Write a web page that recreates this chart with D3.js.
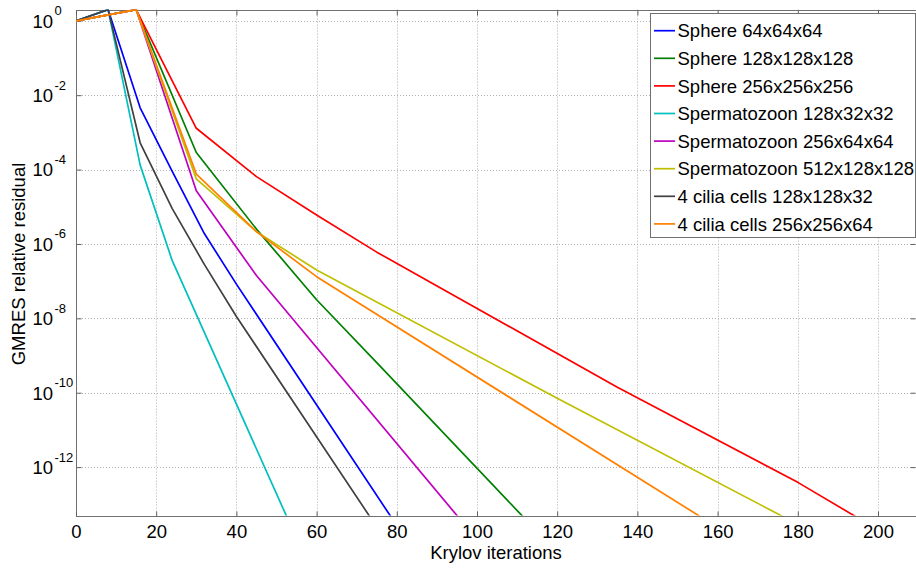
<!DOCTYPE html>
<html>
<head>
<meta charset="utf-8">
<script src="https://cdn.jsdelivr.net/npm/d3@7"></script>
<style>
  html, body { margin: 0; padding: 0; background: #fff; }
  svg { display: block; font-family: "Liberation Sans", Arial, sans-serif; }
</style>
</head>
<body>
<svg id="chart" width="916" height="569"></svg>
<script>
// GMRES convergence histories: relative residual per Krylov iteration
const seriesNames = [
  "Sphere 64x64x64",
  "Sphere 128x128x128",
  "Sphere 256x256x256",
  "Spermatozoon 128x32x32",
  "Spermatozoon 256x64x64",
  "Spermatozoon 512x128x128",
  "4 cilia cells 128x128x32",
  "4 cilia cells 256x256x64"
];
const seriesColors = ["#0000ff", "#008000", "#ff0000", "#00bfbf", "#bf00bf", "#bfbf00", "#404040", "#ff8000"];

const sphere64Iter = [0, 8, 16, 24, 32, 40, 79];
const sphere64Res  = [1, 2, 4.571e-3, 8.913e-5, 1.905e-6, 8.318e-8, 3.89e-14];

const sphere128Iter = [0, 15, 30, 45, 60, 75, 112.5];
const sphere128Res  = [1, 2, 2.884e-4, 2.512e-6, 3.162e-8, 6.457e-10, 3.548e-14];

const sphere256Iter = [0, 15, 30, 45, 60, 75, 135, 180, 196];
const sphere256Res  = [1, 2, 1.288e-3, 6.457e-5, 6.026e-6, 6.026e-7, 1.413e-10, 3.89e-13, 3.715e-14];

const sperm128Iter = [0, 8, 16, 24, 53];
const sperm128Res  = [1, 2, 1.318e-4, 3.548e-7, 3.631e-14];

const sperm256Iter = [0, 15, 30, 45, 96];
const sperm256Res  = [1, 2, 2.692e-5, 1.413e-7, 3.715e-14];

const sperm512Iter = [0, 15, 30, 45, 60, 120, 177];
const sperm512Res  = [1, 2, 5.623e-5, 2.138e-6, 1.995e-7, 7.079e-11, 4.266e-14];

const cilia128Iter = [0, 8, 16, 24, 32, 40, 74];
const cilia128Res  = [1, 2, 5.248e-4, 8.913e-6, 2.818e-7, 1.122e-8, 3.548e-14];

const cilia256Iter = [0, 15, 30, 45, 60, 157];
const cilia256Res  = [1, 2, 7.586e-5, 2.138e-6, 1.318e-7, 3.802e-14];

const xTicks = [0, 20, 40, 60, 80, 100, 120, 140, 160, 180, 200];
const yTickExponents = [0, -2, -4, -6, -8, -10, -12];

const iterSets = [sphere64Iter, sphere128Iter, sphere256Iter, sperm128Iter, sperm256Iter, sperm512Iter, cilia128Iter, cilia256Iter];
const resSets  = [sphere64Res, sphere128Res, sphere256Res, sperm128Res, sperm256Res, sperm512Res, cilia128Res, cilia256Res];

const series = seriesNames.map((name, i) => ({
  name,
  color: seriesColors[i],
  points: iterSets[i].map((it, j) => ({ it, r: resSets[i][j] }))
}));

const plotL = 76, plotR = 918.1, plotT = 9.6, plotB = 515.5;
const fontPx = 18.5;

const svg = d3.select("#chart");
const x = d3.scaleLinear().domain([0, 210]).range([plotL, plotR]);
const y = d3.scaleLog().domain([5e-14, 2]).range([plotB, plotT]);

svg.append("defs").append("clipPath").attr("id", "plotClip")
  .append("rect").attr("x", plotL).attr("y", plotT).attr("width", plotR - plotL).attr("height", plotB - plotT);

// grid
const grid = svg.append("g").attr("stroke", "#b0b0b0").attr("stroke-width", 1).attr("stroke-dasharray", "1,2");
xTicks.forEach(t => {
  if (t === 0) return;
  grid.append("line").attr("x1", Math.round(x(t)) + 0.5).attr("x2", Math.round(x(t)) + 0.5)
    .attr("y1", plotT).attr("y2", plotB);
});
yTickExponents.forEach(e => {
  const yy = Math.round(y(Math.pow(10, e))) + 0.5;
  grid.append("line").attr("x1", plotL).attr("x2", plotR).attr("y1", yy).attr("y2", yy);
});

// frame
svg.append("rect").attr("x", plotL + 0.5).attr("y", Math.round(plotT) + 0.5)
  .attr("width", plotR - plotL).attr("height", Math.round(plotB) - Math.round(plotT))
  .attr("fill", "none").attr("stroke", "#707070").attr("stroke-width", 1);

// axes with inward ticks on all four sides
const xAxisB = d3.axisBottom(x).tickValues(xTicks).tickSize(-5).tickFormat(d3.format("d"));
const gx = svg.append("g").attr("transform", `translate(0,${Math.round(plotB) + 0.5})`).call(xAxisB);
gx.select(".domain").remove();
gx.selectAll(".tick line").attr("stroke", "#606060");
gx.selectAll(".tick text").attr("font-size", fontPx).attr("fill", "#000").attr("y", 8.5).attr("dy", "0.71em")
  .attr("font-family", "Liberation Sans, Arial, sans-serif");

const xAxisT = d3.axisTop(x).tickValues(xTicks).tickSize(-5).tickFormat("");
const gxt = svg.append("g").attr("transform", `translate(0,${Math.round(plotT) + 0.5})`).call(xAxisT);
gxt.select(".domain").remove();
gxt.selectAll(".tick line").attr("stroke", "#606060");

const yVals = yTickExponents.map(e => Math.pow(10, e));
const yAxisL = d3.axisLeft(y).tickValues(yVals).tickSize(-5).tickFormat("");
const gy = svg.append("g").attr("transform", `translate(${plotL + 0.5},0)`).call(yAxisL);
gy.select(".domain").remove();
gy.selectAll(".tick line").attr("stroke", "#606060");

const yAxisR = d3.axisRight(y).tickValues(yVals).tickSize(-5).tickFormat("");
const gyr = svg.append("g").attr("transform", `translate(${plotR - 2.5},0)`).call(yAxisR);
gyr.select(".domain").remove();
gyr.selectAll(".tick line").attr("stroke", "#606060");

// y tick labels as 10^n
const yl = svg.append("g").attr("font-family", "Liberation Sans, Arial, sans-serif").attr("fill", "#000");
yTickExponents.forEach(e => {
  const yy = y(Math.pow(10, e));
  yl.append("text").attr("x", 53).attr("y", yy + 6.8).attr("text-anchor", "end")
    .attr("font-size", fontPx).text("10");
  yl.append("text").attr("x", 54.5).attr("y", yy - 5.5).attr("text-anchor", "start")
    .attr("font-size", 13).text(String(e));
});

// axis titles
svg.append("text").attr("x", 496).attr("y", 558.5).attr("text-anchor", "middle")
  .attr("font-size", fontPx).text("Krylov iterations");
svg.append("text").attr("transform", "translate(25,264) rotate(-90)").attr("text-anchor", "middle")
  .attr("font-size", fontPx).text("GMRES relative residual");

// curves
const line = d3.line().x(d => x(d.it)).y(d => y(d.r));
const curves = svg.append("g").attr("clip-path", "url(#plotClip)");
series.forEach(s => {
  curves.append("path").datum(s.points).attr("d", line)
    .attr("fill", "none").attr("stroke", s.color).attr("stroke-width", 1.7)
    .attr("stroke-linejoin", "round");
});

// legend
const lg = svg.append("g");
lg.append("rect").attr("x", 650.5).attr("y", 13.5).attr("width", 265).attr("height", 224)
  .attr("fill", "#fff").attr("stroke", "#707070").attr("stroke-width", 1);
series.forEach((s, i) => {
  const yy = 30.7 + i * 27.6;
  lg.append("line").attr("x1", 654).attr("x2", 675).attr("y1", yy).attr("y2", yy)
    .attr("stroke", s.color).attr("stroke-width", 1.7);
  lg.append("text").attr("x", 677.5).attr("y", yy + 6.6).attr("font-size", fontPx).attr("fill", "#000")
    .text(s.name);
});
</script>
</body>
</html>
